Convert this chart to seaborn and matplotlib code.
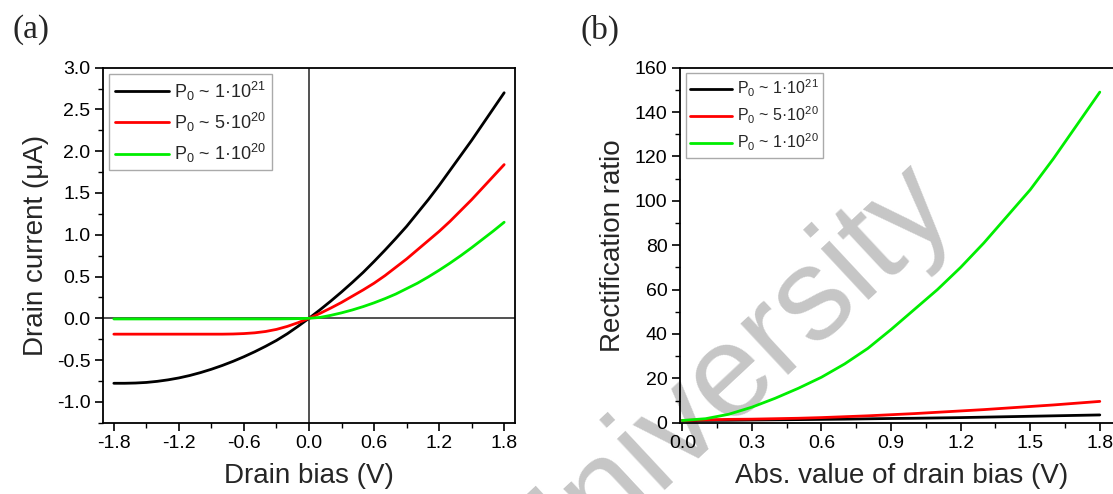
import numpy as np
import pandas as pd
import matplotlib
matplotlib.use("Agg")
import matplotlib.pyplot as plt
from matplotlib.ticker import MultipleLocator
import seaborn as sns

# ---- data -------------------------------------------------------------
bias = [-1.8, -1.7, -1.6, -1.5, -1.4, -1.3, -1.2, -1.1, -1.0, -0.9, -0.8, -0.7, -0.6,
        -0.5, -0.4, -0.3, -0.2, -0.1, 0.0, 0.1, 0.2, 0.3, 0.4, 0.5, 0.6, 0.7, 0.8,
        0.9, 1.0, 1.1, 1.2, 1.3, 1.4, 1.5, 1.6, 1.7, 1.8]

current_1e21 = [-0.778, -0.778, -0.775, -0.768, -0.755, -0.737, -0.714, -0.685, -0.65,
                -0.61, -0.565, -0.515, -0.46, -0.40, -0.335, -0.265, -0.185, -0.095, 0.0,
                0.10, 0.205, 0.315, 0.43, 0.55, 0.68, 0.815, 0.955, 1.10, 1.26, 1.42,
                1.59, 1.77, 1.95, 2.13, 2.32, 2.51, 2.70]
current_5e20 = [-0.19, -0.19, -0.19, -0.19, -0.19, -0.19, -0.19, -0.19, -0.19, -0.19,
                -0.19, -0.188, -0.183, -0.174, -0.158, -0.133, -0.097, -0.052, 0.0,
                0.058, 0.122, 0.19, 0.265, 0.34, 0.42, 0.51, 0.61, 0.71, 0.82, 0.93,
                1.04, 1.16, 1.29, 1.42, 1.56, 1.70, 1.84]
current_1e20 = [-0.008, -0.008, -0.008, -0.008, -0.008, -0.008, -0.008, -0.008, -0.008,
                -0.008, -0.008, -0.008, -0.008, -0.008, -0.008, -0.008, -0.006, -0.004, 0.0,
                0.01, 0.035, 0.065, 0.10, 0.14, 0.185, 0.235, 0.29, 0.355, 0.42, 0.495,
                0.575, 0.66, 0.75, 0.845, 0.945, 1.045, 1.15]

abs_bias = [0.0, 0.1, 0.2, 0.3, 0.4, 0.5, 0.6, 0.7, 0.8, 0.9, 1.0, 1.1, 1.2, 1.3, 1.4,
            1.5, 1.6, 1.7, 1.8]
ratio_1e21 = [1.0, 1.05, 1.1, 1.2, 1.3, 1.4, 1.5, 1.6, 1.75, 1.9, 2.0, 2.15, 2.3, 2.5,
              2.7, 2.9, 3.1, 3.3, 3.5]
ratio_5e20 = [1.0, 1.3, 1.5, 1.6, 1.8, 2.0, 2.3, 2.7, 3.1, 3.6, 4.1, 4.7, 5.3, 5.9, 6.6,
              7.3, 8.0, 8.8, 9.6]
ratio_1e20 = [1.0, 1.8, 3.8, 7.0, 11.0, 15.5, 20.5, 26.5, 33.5, 42.0, 51.0, 60.0, 70.0,
              81.0, 93.0, 105.0, 119.0, 134.0, 149.0]

series_labels = ["P$_0$ ~ 1·10$^{21}$", "P$_0$ ~ 5·10$^{20}$", "P$_0$ ~ 1·10$^{20}$"]
series_colors = ["#000000", "#ff0000", "#00ee00"]

# ---- style ------------------------------------------------------------
sns.set_theme(style="ticks")
plt.rcParams["font.family"] = ["Liberation Sans", "DejaVu Sans"]
plt.rcParams["mathtext.fontset"] = "custom"
plt.rcParams["mathtext.rm"] = "Liberation Sans"
plt.rcParams["mathtext.it"] = "Liberation Sans:italic"
plt.rcParams["mathtext.bf"] = "Liberation Sans:bold"

W, H = 1113, 494
fig = plt.figure(figsize=(W / 100, H / 100), dpi=100)
fig.patch.set_facecolor("white")


def px_axes(left, top, right, bottom):
    return fig.add_axes([left / W, 1 - bottom / H, (right - left) / W, (bottom - top) / H])


def style_axes(ax):
    for s in ax.spines.values():
        s.set_visible(True)
        s.set_color("black")
        s.set_linewidth(1.3)
    ax.tick_params(which="major", direction="out", length=6, width=1.2,
                   labelsize=14, colors="black", pad=3)
    ax.tick_params(which="minor", direction="out", length=3.5, width=1.0, colors="black")
    ax.set_facecolor("none")
    ax.grid(False)


def add_legend(ax, size, handle_len, spacing):
    leg = ax.legend(loc="upper left", fontsize=size, frameon=True, fancybox=False,
                    edgecolor="#aaaaaa", framealpha=1, handlelength=handle_len,
                    handletextpad=0.3, borderpad=0.3, labelspacing=spacing,
                    borderaxespad=0.35)
    leg.get_frame().set_linewidth(1.0)
    for ln in leg.get_lines():
        ln.set_linewidth(2.0)
    return leg


# ---- panel (a): I-V curves --------------------------------------------
ax1 = px_axes(103, 67.7, 515, 422.7)
style_axes(ax1)
ax1.axhline(0, color="#333333", lw=1.2, zorder=1)
ax1.axvline(0, color="#333333", lw=1.2, zorder=1)

for ys, lab, col in zip([current_1e21, current_5e20, current_1e20], series_labels, series_colors):
    sns.lineplot(x=bias, y=ys, ax=ax1, color=col, lw=2.0, label=lab, sort=False, zorder=3)

ax1.set_xlim(-1.9, 1.9)
ax1.set_ylim(-1.25, 3.0)
ax1.set_xticks([-1.8, -1.2, -0.6, 0.0, 0.6, 1.2, 1.8])
ax1.set_xticklabels(["-1.8", "-1.2", "-0.6", "0.0", "0.6", "1.2", "1.8"])
ax1.xaxis.set_minor_locator(MultipleLocator(0.3))
ax1.set_yticks([-1.0, -0.5, 0.0, 0.5, 1.0, 1.5, 2.0, 2.5, 3.0])
ax1.set_yticklabels(["-1.0", "-0.5", "0.0", "0.5", "1.0", "1.5", "2.0", "2.5", "3.0"])
ax1.yaxis.set_minor_locator(MultipleLocator(0.25))
ax1.set_xlabel("Drain bias (V)", fontsize=20, labelpad=8)
ax1.set_ylabel("Drain current (μA)", fontsize=20, labelpad=6)
add_legend(ax1, 13, 3.0, 0.45)

# ---- panel (b): rectification ratio ------------------------------------
ax2 = px_axes(680, 67.7, 1123, 422.7)
style_axes(ax2)
for ys, lab, col in zip([ratio_1e21, ratio_5e20, ratio_1e20], series_labels, series_colors):
    sns.lineplot(x=abs_bias, y=ys, ax=ax2, color=col, lw=2.0, label=lab, sort=False, zorder=3)

ax2.set_xlim(-0.01, 1.9)
ax2.set_ylim(0, 160)
ax2.set_xticks([0.0, 0.3, 0.6, 0.9, 1.2, 1.5, 1.8])
ax2.set_xticklabels(["0.0", "0.3", "0.6", "0.9", "1.2", "1.5", "1.8"])
ax2.xaxis.set_minor_locator(MultipleLocator(0.15))
ax2.set_yticks([0, 20, 40, 60, 80, 100, 120, 140, 160])
ax2.yaxis.set_minor_locator(MultipleLocator(10))
ax2.set_xlabel("Abs. value of drain bias (V)", fontsize=20, labelpad=8)
ax2.set_ylabel("Rectification ratio", fontsize=20, labelpad=6)
add_legend(ax2, 11.5, 2.6, 0.35)

# ---- panel letters ----------------------------------------------------
fig.text(12 / W, 1 - 30 / H, "(a)", fontsize=24, family="Liberation Serif", va="center", ha="left")
fig.text(581 / W, 1 - 30 / H, "(b)", fontsize=24, family="Liberation Serif", va="center", ha="left")

# ---- watermark, behind the plotted curves -----------------------------
fig.text(722 / W, 1 - 380 / H, "University", fontsize=95, color="#c6c6c6",
         rotation=43, rotation_mode="anchor", ha="center", va="center", zorder=-1)

fig.savefig("out.png", dpi=100, facecolor="white")
